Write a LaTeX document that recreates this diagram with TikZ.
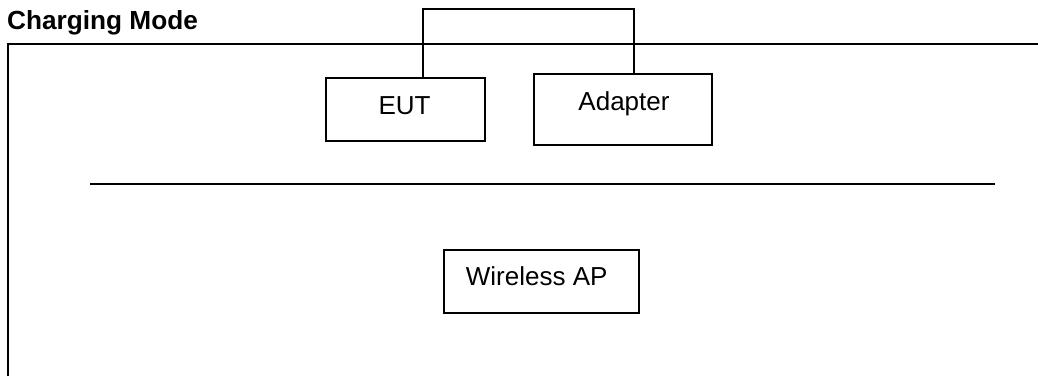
\documentclass[tikz,border=0pt]{standalone}
\usepackage{fontspec}
\setmainfont{Liberation Sans}
\begin{document}
\begin{tikzpicture}[x=1pt,y=-1pt,
  box/.style={draw,line width=2pt,inner sep=0pt},
  lbl/.style={anchor=base,inner sep=0pt,font=\fontsize{26}{30}\selectfont},
  wire/.style={line width=1.6pt},
  rule/.style={line width=2.2pt}]
\useasboundingbox (0,0) rectangle (1038,376);
\node[anchor=base west,inner sep=0pt,font=\fontsize{26.2}{30}\selectfont\bfseries] (title) at (7,29) {Charging Mode};
\coordinate (fbl) at (8,376);
\coordinate (ftl) at (8,44);
\coordinate (ftr) at (1038,44);
\draw[rule] (fbl) -- (ftl) -- (ftr);
\node[box,minimum width=159,minimum height=63] (eut) at (405.5,109.5) {};
\node[lbl] (eutl) at (404.5,114) {EUT};
\node[box,minimum width=178,minimum height=71] (ad) at (623,109.5) {};
\node[lbl] (adl) at (624,110) {Adapter};
\node[box,minimum width=195,minimum height=63] (ap) at (541.5,281.5) {};
\node[lbl] (apl) at (536.7,285.7) {Wireless AP};
\coordinate (hl) at (90,184);
\coordinate (hr) at (995,184);
\draw[rule] (hl) -- (hr);
\coordinate (wl) at (423,9);
\coordinate (wr) at (634,9);
\draw[wire] (eut.north -| wl) -- (wl) -- (wr) -- (ad.north -| wr);
\end{tikzpicture}
\end{document}
